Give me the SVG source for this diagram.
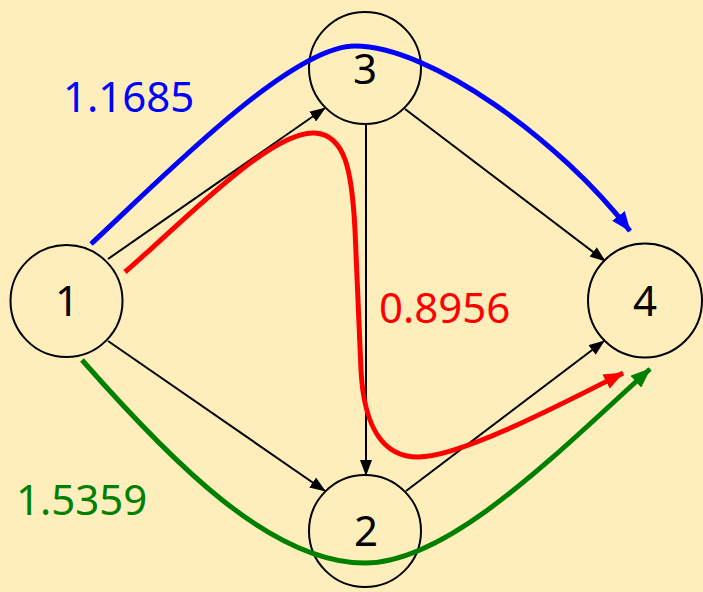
<svg xmlns="http://www.w3.org/2000/svg" width="703" height="592" viewBox="0 0 703 592">
<style>
.node{fill:#FEEEBC;stroke:#000;stroke-width:2}
.nl{font-family:"Noto Sans","Open Sans",sans-serif;font-size:42px;fill:#000;text-anchor:middle}
.lbl{font-family:"Noto Sans","Open Sans",sans-serif;font-size:42px}
.e{fill:none;stroke:#000;stroke-width:2;marker-end:url(#ab)}
.p{fill:none;stroke-width:5}
</style>
<defs>
<marker id="ab" markerUnits="userSpaceOnUse" viewBox="0 0 16 12" refX="15" refY="6" markerWidth="16" markerHeight="12" orient="auto"><path d="M0,0 L16,6 L0,12 Z" fill="#000"/></marker>
<marker id="abl" markerUnits="userSpaceOnUse" viewBox="0 0 20 16" refX="19" refY="8" markerWidth="20" markerHeight="16" orient="auto"><path d="M0,0 L20,8 L0,16 Z" fill="#0000FF"/></marker>
<marker id="ar" markerUnits="userSpaceOnUse" viewBox="0 0 20 16" refX="19" refY="8" markerWidth="20" markerHeight="16" orient="auto"><path d="M0,0 L20,8 L0,16 Z" fill="#FF0000"/></marker>
<marker id="ag" markerUnits="userSpaceOnUse" viewBox="0 0 20 16" refX="19" refY="8" markerWidth="20" markerHeight="16" orient="auto"><path d="M0,0 L20,8 L0,16 Z" fill="#008000"/></marker>
</defs>
<rect width="703" height="592" fill="#FEEEBC"/>
<g id="connectors">
<line class="e" x1="108" y1="259" x2="325" y2="108"/>
<line class="e" x1="108" y1="341" x2="325" y2="491"/>
<line class="e" x1="405" y1="109" x2="605" y2="261"/>
<line class="e" x1="366" y1="124" x2="366" y2="475"/>
<line class="e" x1="406" y1="491" x2="604" y2="341"/>
</g>
<g id="node1"><circle class="node" cx="66.5" cy="301" r="56"/><text class="nl" x="67" y="316">1</text></g>
<g id="node3"><circle class="node" cx="365" cy="68" r="56"/><text class="nl" x="365" y="84">3</text></g>
<g id="node2"><circle class="node" cx="365" cy="531" r="56"/><text class="nl" x="366" y="546">2</text></g>
<g id="node4"><circle class="node" cx="645" cy="300.5" r="57"/><text class="nl" x="645" y="316">4</text></g>
<g id="paths">
<path class="p" stroke="#0000FF" marker-end="url(#abl)" d="M91,244 C160,180 290,46 355,46 C430,46 560,140 630,231"/>
<path class="p" stroke="#FF0000" marker-end="url(#ar)" d="M125,272 C180,225 270,130 315,133 C345,135 352,170 355,230 L361,370 C364,430 385,457 418,457 C460,457 560,405 623,373"/>
<path class="p" stroke="#008000" marker-end="url(#ag)" d="M82,360 C170,460 270,563 365,563 C450,563 560,450 650,369"/>
</g>
<text class="lbl" fill="#0000FF" x="63" y="112">1.1685</text>
<text class="lbl" fill="#FF0000" x="379" y="323">0.8956</text>
<text class="lbl" fill="#008000" x="16" y="515">1.5359</text>
</svg>
